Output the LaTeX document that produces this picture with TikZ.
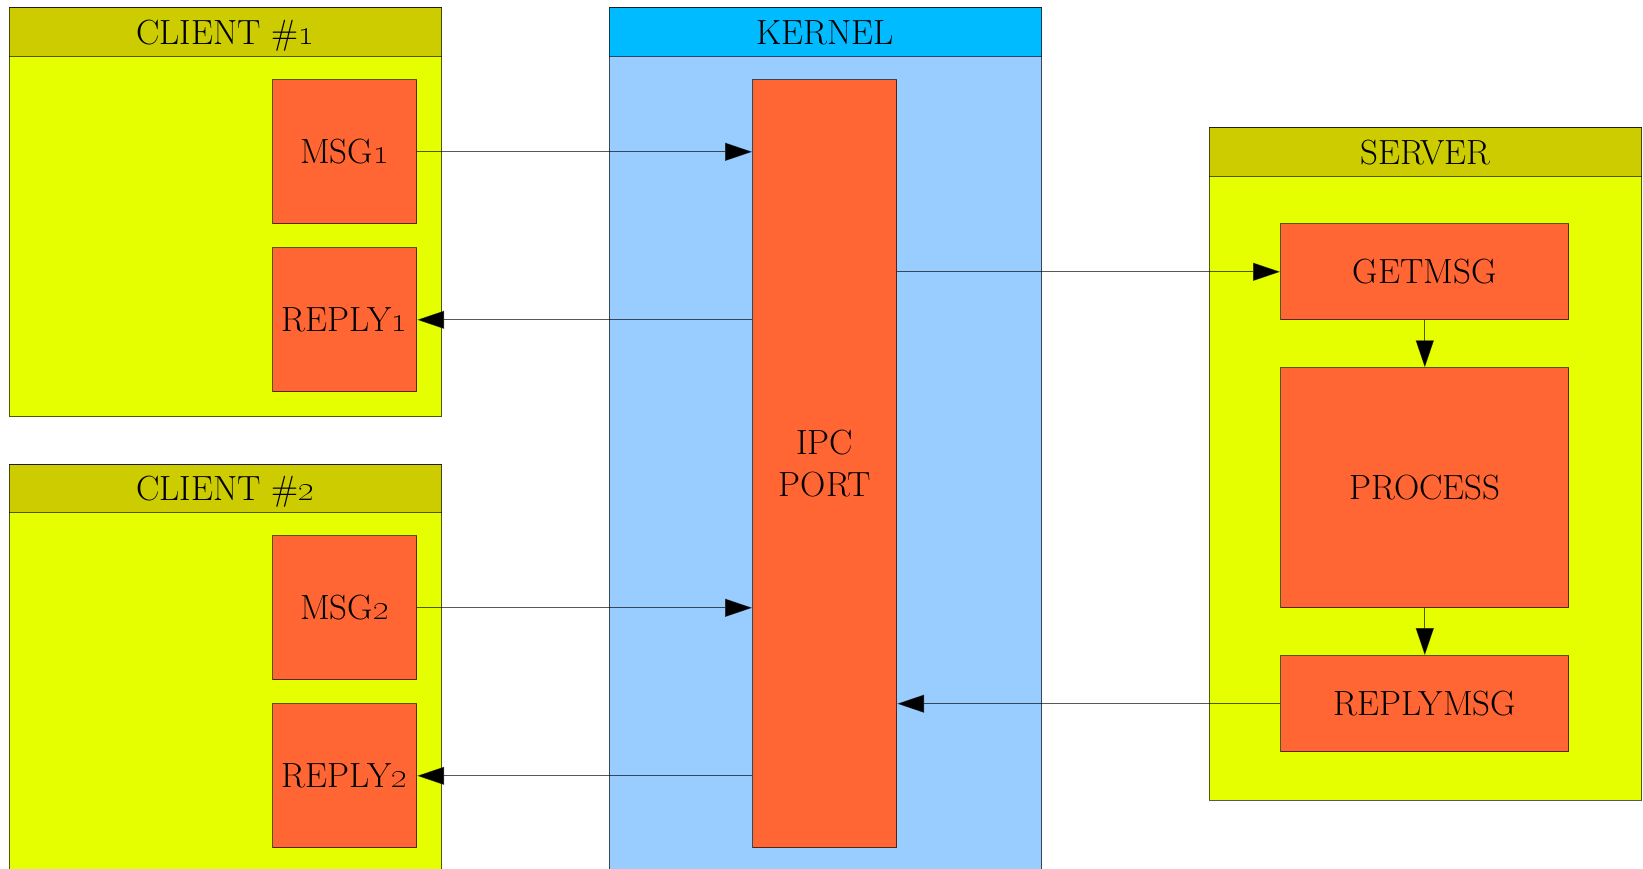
\documentclass[tikz,border=0pt]{standalone}
\usetikzlibrary{arrows.meta}
\definecolor{cbody}{HTML}{E5FF00}
\definecolor{chead}{HTML}{CCCC00}
\definecolor{kbody}{HTML}{99CCFF}
\definecolor{khead}{HTML}{00BBFF}
\definecolor{orng}{HTML}{FF6633}
\newcommand{\osn}[1]{\oldstylenums{#1}}
\tikzset{
  edge/.style={draw=black, draw opacity=0.65, line width=1pt},
  body/.style={edge, rectangle, inner sep=0pt, anchor=north west},
  capc/.style={text height=24pt, text depth=0pt},
  head/.style={edge, rectangle, inner sep=0pt, anchor=north west, capc, font=\fontsize{35}{42}\selectfont},
  proc/.style={edge, fill=orng, rectangle, inner sep=0pt, align=center, font=\fontsize{35}{42}\selectfont},
  arr/.style={edge, -{Triangle[length=27pt,width=18pt,fill=black]}},
}
\begin{document}
\begin{tikzpicture}[x=1pt,y=-1pt]
\useasboundingbox (0,0) rectangle (1643,868);
\clip (0,0) rectangle (1643,868);
% clusters
\node[body, fill=cbody, minimum width=432.3pt, minimum height=408.7pt] (c1) at (8.7,7.3) {};
\node[head, fill=chead, minimum width=432.3pt, minimum height=48.4pt] (c1h) at (8.7,7.3) {CLIENT \#\osn{1}};
\node[body, fill=cbody, minimum width=432.3pt, minimum height=450pt] (c2) at (8.7,464) {};
\node[head, fill=chead, minimum width=432.3pt, minimum height=47.7pt] (c2h) at (8.7,464) {CLIENT \#\osn{2}};
\node[body, fill=kbody, minimum width=432.3pt, minimum height=900pt] (k) at (608.7,7.3) {};
\node[head, fill=khead, minimum width=432.3pt, minimum height=48.4pt] (kh) at (608.7,7.3) {KERNEL};
\node[body, fill=cbody, minimum width=432.3pt, minimum height=672.4pt] (s) at (1208.7,127.3) {};
\node[head, fill=chead, minimum width=432.3pt, minimum height=48.4pt] (sh) at (1208.7,127.3) {SERVER};
% process nodes
\node[proc, capc, minimum width=144pt, minimum height=143.7pt] (msg1) at (344.7,151.8) {MSG\osn{1}};
\node[proc, capc, minimum width=144pt, minimum height=143.7pt] (rep1) at (344.7,319.8) {REPLY\osn{1}};
\node[proc, capc, minimum width=144pt, minimum height=143.7pt] (msg2) at (344.7,607.8) {MSG\osn{2}};
\node[proc, capc, minimum width=144pt, minimum height=143.7pt] (rep2) at (344.7,775.8) {REPLY\osn{2}};
\node[proc, minimum width=144pt, minimum height=767.7pt] (ipc) at (824.7,463.8) {IPC\\PORT};
\node[proc, capc, minimum width=288.3pt, minimum height=95.7pt] (get) at (1424.8,271.8) {GETMSG};
\node[proc, capc, minimum width=288.3pt, minimum height=239.7pt] (proc) at (1424.8,487.8) {PROCESS};
\node[proc, capc, minimum width=288.3pt, minimum height=96pt] (rmsg) at (1424.8,703.7) {REPLYMSG};
% connectors
\draw[arr] (msg1.east) -- (msg1.east -| ipc.west);
\draw[arr] (rep1.east -| ipc.west) -- (rep1.east);
\draw[arr] (msg2.east) -- (msg2.east -| ipc.west);
\draw[arr] (rep2.east -| ipc.west) -- (rep2.east);
\draw[arr] (get.west -| ipc.east) -- (get.west);
\draw[arr] (rmsg.west) -- (rmsg.west -| ipc.east);
\draw[arr] (get.south) -- (proc.north);
\draw[arr] (proc.south) -- (rmsg.north);
\end{tikzpicture}
\end{document}
